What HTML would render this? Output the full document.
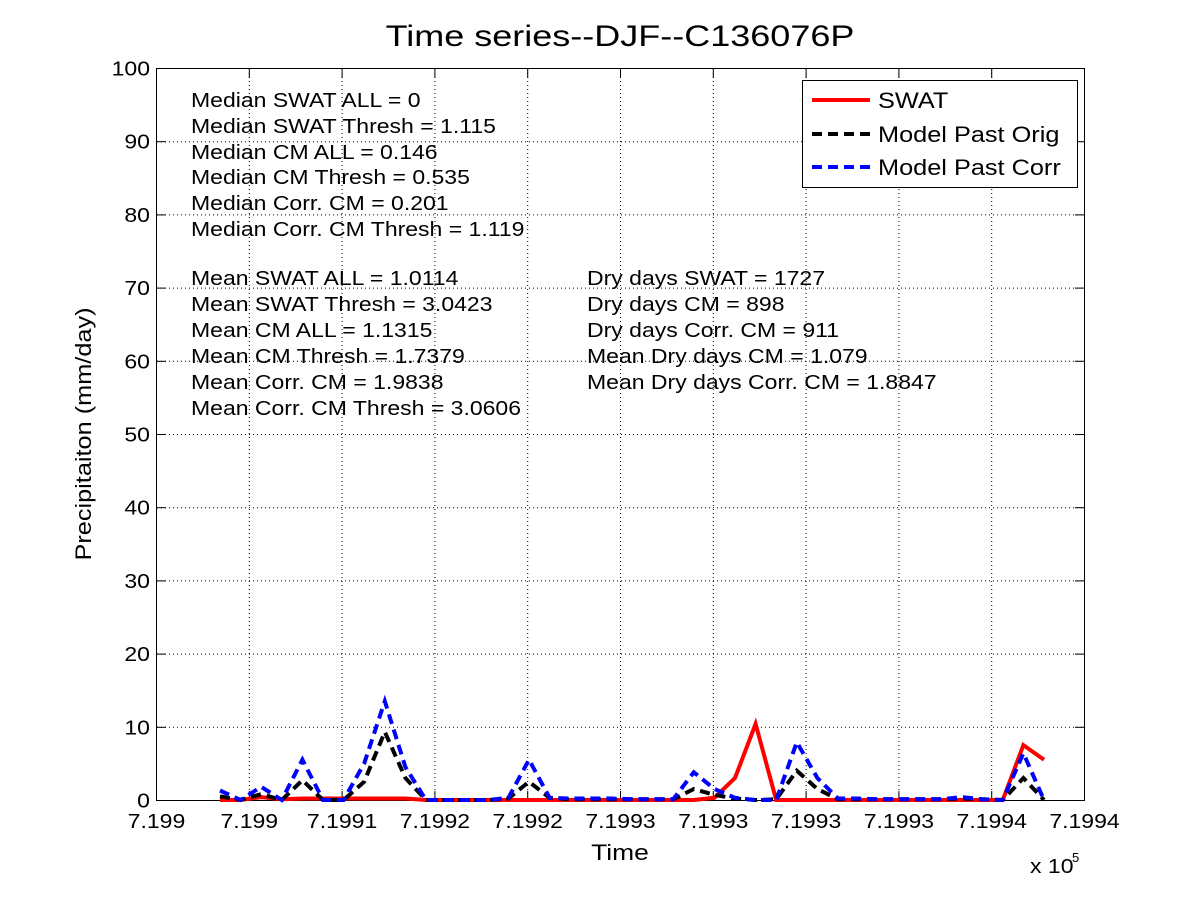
<!DOCTYPE html>
<html><head><meta charset="utf-8"><style>
body{margin:0;background:#fff;}
svg{display:block;font-family:"Liberation Sans",Arial,sans-serif;}
</style></head><body>
<svg id="s" width="1200" height="900" viewBox="0 0 1200 900" xmlns="http://www.w3.org/2000/svg">
<rect width="1200" height="900" fill="#fff"/>
<g id="grid" stroke="#000" stroke-width="1" stroke-dasharray="1,3"></g>
<g id="ticks" stroke="#000" stroke-width="1"></g>
<rect x="156.5" y="68.5" width="928" height="732" fill="none" stroke="#000"/>
<g id="labels" font-size="20" fill="#000"></g>
<polyline id="red" fill="none" stroke="#ff0000" stroke-width="4"/>
<polyline id="blk" fill="none" stroke="#000" stroke-width="4" stroke-dasharray="10,6"/>
<polyline id="blu" fill="none" stroke="#0000ff" stroke-width="4" stroke-dasharray="10,6"/>
<text class="w2" x="620" y="46" font-size="30" text-anchor="middle">Time series--DJF--C136076P</text>
<text class="w2" x="620" y="860" font-size="22" text-anchor="middle">Time</text>
<text class="w" x="1030" y="873" font-size="20">x 10</text><text x="1072" y="862" font-size="13">5</text>
<text class="w" transform="translate(91,434) rotate(-90)" font-size="22" text-anchor="middle">Precipitaiton (mm/day)</text>
<g font-size="20">
<text class="w" x="191" y="107">Median SWAT ALL = 0</text>
<text class="w" x="191" y="133">Median SWAT Thresh = 1.115</text>
<text class="w" x="191" y="159">Median CM ALL = 0.146</text>
<text class="w" x="191" y="184">Median CM Thresh = 0.535</text>
<text class="w" x="191" y="210">Median Corr. CM = 0.201</text>
<text class="w" x="191" y="236">Median Corr. CM Thresh = 1.119</text>
<text class="w" x="191" y="285">Mean SWAT ALL = 1.0114</text>
<text class="w" x="191" y="311">Mean SWAT Thresh = 3.0423</text>
<text class="w" x="191" y="337">Mean CM ALL = 1.1315</text>
<text class="w" x="191" y="363">Mean CM Thresh = 1.7379</text>
<text class="w" x="191" y="389">Mean Corr. CM = 1.9838</text>
<text class="w" x="191" y="415">Mean Corr. CM Thresh = 3.0606</text>
<text class="w" x="587" y="285">Dry days SWAT = 1727</text>
<text class="w" x="587" y="311">Dry days CM = 898</text>
<text class="w" x="587" y="337">Dry days Corr. CM = 911</text>
<text class="w" x="587" y="363">Mean Dry days CM = 1.079</text>
<text class="w" x="587" y="389">Mean Dry days Corr. CM = 1.8847</text>
</g>
<rect x="802.5" y="80.5" width="275" height="107" fill="#fff" stroke="#000"/>
<line x1="812" y1="100" x2="870" y2="100" stroke="#ff0000" stroke-width="4"/>
<line x1="812" y1="134" x2="870" y2="134" stroke="#000" stroke-width="4" stroke-dasharray="10,6"/>
<line x1="812" y1="167" x2="870" y2="167" stroke="#0000ff" stroke-width="4" stroke-dasharray="10,6"/>
<g font-size="22"><text class="w" x="878" y="108">SWAT</text><text class="w" x="878" y="142">Model Past Orig</text><text class="w" x="878" y="175">Model Past Corr</text></g>
</svg>
<script>
var NS="http://www.w3.org/2000/svg";
function el(p,t,a,txt){var e=document.createElementNS(NS,t);for(var k in a)e.setAttribute(k,a[k]);if(txt!==undefined)e.textContent=txt;document.getElementById(p).appendChild(e);return e;}
var L=["7.199","7.199","7.1991","7.1992","7.1992","7.1993","7.1993","7.1993","7.1993","7.1994","7.1994"];
L=["7.199","7.199","7.1991","7.1991","7.1992","7.1992","7.1993","7.1993","7.1993","7.1994","7.1994"];
L=["7.199","7.199","7.1991","7.1992","7.1992","7.1993","7.1993","7.1993","7.1993","7.1994","7.1994"];
for(var i=0;i<=10;i++){var x=156.5+92.8*i;
 if(i>0&&i<10)el("grid","line",{x1:x,y1:69,x2:x,y2:800});
 el("ticks","line",{x1:x,y1:800,x2:x,y2:791});el("ticks","line",{x1:x,y1:69,x2:x,y2:78});
 var y=800.5-73.2*i;
 if(i>0&&i<10)el("grid","line",{x1:157,y1:y,x2:1084,y2:y});
 el("ticks","line",{x1:157,y1:y,x2:166,y2:y});el("ticks","line",{x1:1084,y1:y,x2:1075,y2:y});
 el("labels","text",{x:150,y:y+7,"text-anchor":"end","class":"w"},String(i*10));
 el("labels","text",{x:x,y:828,"text-anchor":"middle","class":"w"},L[i]);
}
function pts(v){return v.map(function(a,i){return (220+20.6*i).toFixed(1)+","+(800-7.32*a).toFixed(1);}).join(" ");}
var blue=[1.3,0,1.8,0,5.5,0,0,5,13.5,4.5,0,0,0,0,0.3,5.5,0.3,0.2,0.2,0.2,0.1,0.1,0.1,3.8,1.5,0.3,0,0,7.9,3,0.2,0.2,0.1,0.1,0.1,0.1,0.4,0.1,0,6.4,0];
var black=[0.5,0,0.8,0,2.7,0,0,2.5,9.3,3,0,0,0,0,0.2,2.5,0.3,0.1,0.1,0.1,0.1,0.1,0.1,1.5,0.7,0.2,0,0.1,4,1.5,0.1,0.1,0.1,0.1,0.1,0.1,0.2,0.1,0,3,0];
var red=[0,0,0.4,0.1,0.2,0.2,0.2,0.2,0.2,0.2,0,0,0,0,0,0,0,0,0,0,0,0,0,0,0.3,3,10.4,0,0,0,0,0,0,0,0,0,0,0,0,7.5,5.5];
document.getElementById("red").setAttribute("points",pts(red));
document.getElementById("blk").setAttribute("points",pts(black));
document.getElementById("blu").setAttribute("points",pts(blue));
function widen(sel,f){var a=document.querySelectorAll(sel);for(var i=0;i<a.length;i++){var w=a[i].getComputedTextLength();a[i].setAttribute("textLength",(w*f).toFixed(1));a[i].setAttribute("lengthAdjust","spacingAndGlyphs");}}
widen(".w",1.15);widen(".w2",1.2);
</script>
</body></html>
